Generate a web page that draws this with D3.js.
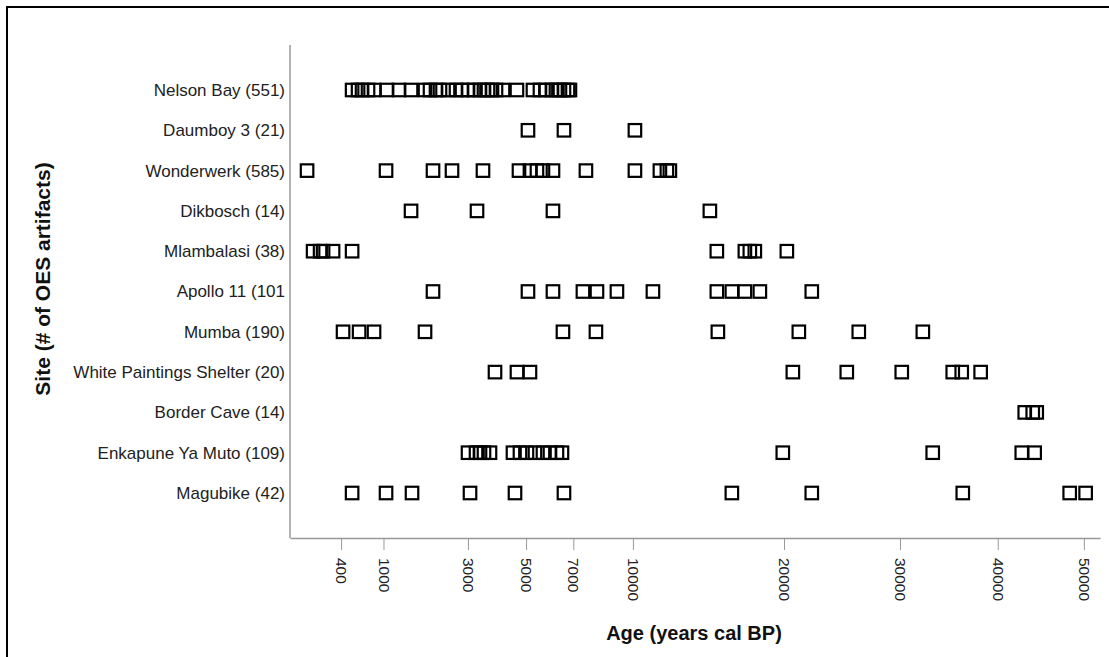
<!DOCTYPE html>
<html>
<head>
<meta charset="utf-8">
<script src="https://cdn.jsdelivr.net/npm/d3@7"></script>
<style>
  body { margin: 0; background: #fff; }
  text { font-family: "Liberation Sans", Arial, sans-serif; }
</style>
</head>
<body>
<svg id="chart" width="1109" height="657"></svg>
<script>
// ages in years cal BP
const nelsonBay = [530, 608, 663, 750, 843, 1063, 1288, 1535, 1850, 1970, 2118, 2220, 2432, 2653, 2825,
  3003, 3185, 3373, 3502, 3633, 3766, 3902, 4145, 4653, 5270, 5553, 5800, 6054, 6226, 6400, 6577, 6756, 6845];
const daumboy3 = [5074, 6577, 10110];
const wonderwerk = [114, 1045, 2043, 2541, 3469, 4729, 5152, 5431, 5676, 6097, 7590, 10110, 11534, 11950, 12128];
const dikbosch = [1535, 3279, 6097, 14664];
const mlambalasi = [152, 203, 227, 317, 530, 15130, 17080, 17437, 17800, 20220];
const apollo11 = [2043, 5074, 6097, 7447, 8126, 9143, 11127, 15130, 16160, 17080, 18170, 22210];
const mumba = [422, 622, 843, 1850, 6532, 8075, 15200, 21165, 26215, 32210];
const whitePaintings = [3868, 4653, 5152, 20690, 25162, 30170, 35220, 36150, 38150];
const borderCave = [43017, 43930, 44390];
const enkapune = [3003, 3248, 3373, 3502, 3699, 4505, 4766, 5035, 5350, 5676, 5969, 6269, 6488, 19905, 33190, 42680, 44150];
const magubike = [530, 1045, 1556, 3063, 4580, 6577, 16160, 22210, 36260, 48280, 50220];

const siteLabels = ["Nelson Bay (551)", "Daumboy 3 (21)", "Wonderwerk (585)", "Dikbosch (14)",
  "Mlambalasi (38)", "Apollo 11 (101", "Mumba (190)", "White Paintings Shelter (20)",
  "Border Cave (14)", "Enkapune Ya Muto (109)", "Magubike (42)"];
const siteAges = [nelsonBay, daumboy3, wonderwerk, dikbosch, mlambalasi, apollo11, mumba,
  whitePaintings, borderCave, enkapune, magubike];
const tickValues = [400, 1000, 3000, 5000, 7000, 10000, 20000, 30000, 40000, 50000];

const svg = d3.select('#chart');

// outer frame
svg.append('rect')
  .attr('x', 7).attr('y', 7)
  .attr('width', 1200).attr('height', 800)
  .attr('fill', 'none')
  .attr('stroke', '#000')
  .attr('stroke-width', 2);

const x = d3.scaleSqrt().domain([36, 52000]).range([290, 1100]);
const y = d3.scalePoint().domain(siteLabels).range([90, 493]);
const axisY = 538;

// y axis line + labels
svg.append('line')
  .attr('x1', 290).attr('x2', 290)
  .attr('y1', 45).attr('y2', axisY)
  .attr('stroke', '#999').attr('stroke-width', 1.5);

svg.append('g')
  .selectAll('text')
  .data(siteLabels)
  .join('text')
  .attr('x', 285)
  .attr('y', d => y(d))
  .attr('dy', '0.35em')
  .attr('text-anchor', 'end')
  .attr('font-size', 17)
  .attr('fill', '#222')
  .text(d => d);

// x axis
const xAxis = svg.append('g')
  .attr('transform', `translate(0,${axisY})`)
  .call(d3.axisBottom(x).tickValues(tickValues).tickSize(12).tickSizeOuter(0).tickFormat(d3.format('d')));

xAxis.select('.domain').attr('stroke', '#999').attr('stroke-width', 1.5);
xAxis.selectAll('.tick line').attr('stroke', '#999');
xAxis.selectAll('.tick text')
  .attr('font-size', 15.5)
  .attr('fill', '#222')
  .attr('font-family', '"Liberation Sans", Arial, sans-serif')
  .attr('text-anchor', 'start')
  .attr('transform', 'rotate(90)')
  .attr('x', 20)
  .attr('y', 0)
  .attr('dy', '0.35em');

// axis titles
svg.append('text')
  .attr('x', 694).attr('y', 640)
  .attr('text-anchor', 'middle')
  .attr('font-size', 20)
  .attr('font-weight', 'bold')
  .attr('fill', '#111')
  .text('Age (years cal BP)');

svg.append('text')
  .attr('transform', `translate(50,279) rotate(-90)`)
  .attr('text-anchor', 'middle')
  .attr('font-size', 21)
  .attr('font-weight', 'bold')
  .attr('fill', '#111')
  .text('Site (# of OES artifacts)');

// points
const pts = siteLabels.flatMap((s, i) => siteAges[i].map(a => ({ site: s, age: a })));
const size = 12.5;

svg.append('g')
  .selectAll('rect')
  .data(pts)
  .join('rect')
  .attr('x', d => x(d.age) - size / 2)
  .attr('y', d => y(d.site) - size / 2)
  .attr('width', size)
  .attr('height', size)
  .attr('fill', 'none')
  .attr('stroke', '#000')
  .attr('stroke-width', 2.2);
</script>
</body>
</html>
